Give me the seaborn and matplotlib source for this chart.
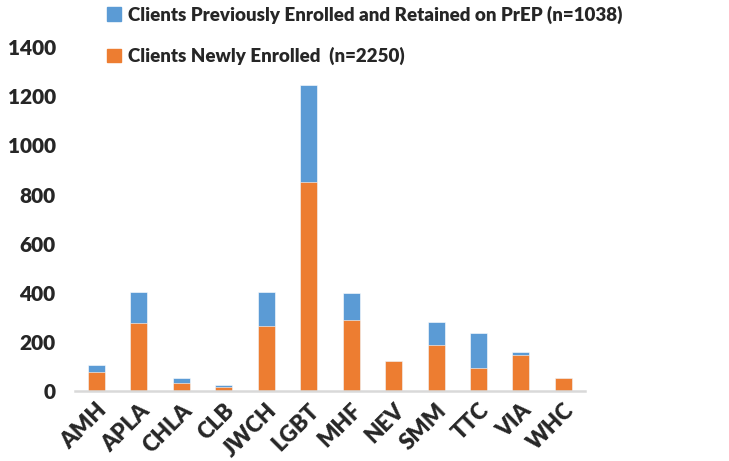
import numpy as np
import matplotlib
matplotlib.use("Agg")
import matplotlib.pyplot as plt
import matplotlib.patches as mpatches
import pandas as pd
import seaborn as sns

sites = ["AMH", "APLA", "CHLA", "CLB", "JWCH", "LGBT", "MHF", "NEV", "SMM", "TTC", "VIA", "WHC"]
newly_enrolled = [80, 278, 33, 18, 265, 853, 290, 124, 188, 96, 149, 55]
retained = [28, 127, 22, 7, 140, 394, 112, 0, 95, 143, 13, 0]

blue = "#5B9BD5"
orange = "#ED7D31"

df = pd.DataFrame({"site": sites, "new": newly_enrolled, "retained": retained})
df["total"] = df["new"] + df["retained"]

sns.set_style("white")
plt.rcParams["font.family"] = ["Lato", "DejaVu Sans"]
plt.rcParams["font.weight"] = "heavy"

fig = plt.figure(figsize=(7.29, 4.61), dpi=100)
ax = fig.add_axes([0.103, 0.151, 0.699, 0.747])

sns.barplot(data=df, x="site", y="total", color=blue, width=0.4, saturation=1,
            edgecolor="white", linewidth=0.4, ax=ax)
sns.barplot(data=df, x="site", y="new", color=orange, width=0.4, saturation=1,
            edgecolor="white", linewidth=0.4, ax=ax)

ax.set_ylim(0, 1400)
ax.set_xlim(-0.5, len(sites) - 0.5)
ax.set_yticks(range(0, 1401, 200))
ax.set_xlabel("")
ax.set_ylabel("")
for s in ["top", "right", "left"]:
    ax.spines[s].set_visible(False)
ax.spines["bottom"].set_color("#d9d9d9")
ax.spines["bottom"].set_linewidth(1.8)
ax.tick_params(axis="both", length=0, labelsize=15)
ax.tick_params(axis="x", labelsize=16, pad=6)
ax.tick_params(axis="y", pad=14)
plt.setp(ax.get_yticklabels(), fontweight="heavy")
plt.setp(ax.get_xticklabels(), fontweight="heavy", rotation=45, ha="right",
         rotation_mode="anchor")

handles = [mpatches.Patch(color=blue, label="Clients Previously Enrolled and Retained on PrEP (n=1038)"),
           mpatches.Patch(color=orange, label="Clients Newly Enrolled  (n=2250)")]
fig.legend(handles=handles, loc="upper left", bbox_to_anchor=(0.124, 1.025), frameon=False,
           prop={"weight": "heavy", "size": 13.5}, labelspacing=1.25, handlelength=0.75,
           handleheight=0.75, handletextpad=0.35)

fig.savefig("out.png", dpi=100)
